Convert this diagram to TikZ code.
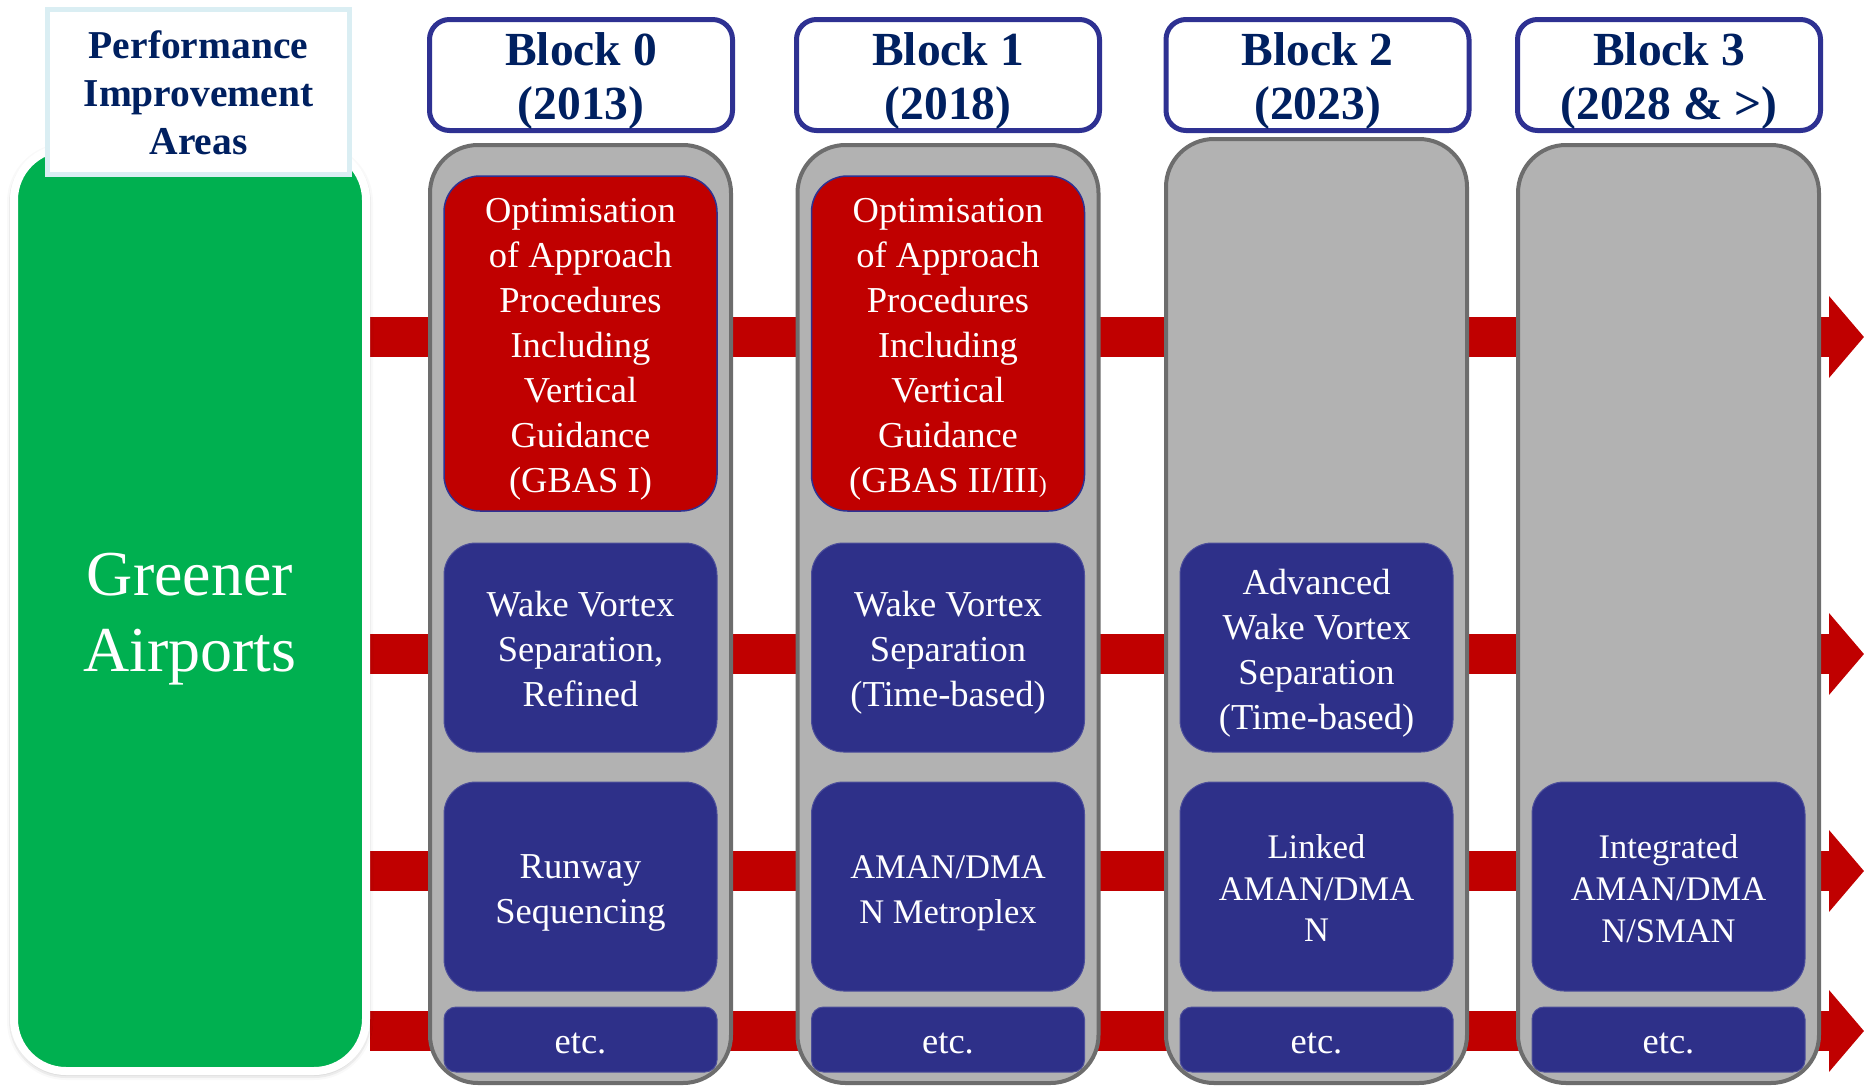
\documentclass[tikz,border=0pt]{standalone}
\usepackage{fontspec}
\setmainfont{Liberation Serif}
\usetikzlibrary{arrows.meta,backgrounds,shadows.blur}

\definecolor{leafgreen}{HTML}{00B050}
\definecolor{deepred}{HTML}{C00000}
\definecolor{boxblue}{HTML}{2E3089}
\definecolor{rimblue}{HTML}{2E3192}
\definecolor{titlenavy}{HTML}{002060}
\definecolor{colgrey}{HTML}{B2B2B2}
\definecolor{colrim}{HTML}{6D6D6D}
\definecolor{paleteal}{HTML}{DAEEF3}

\begin{document}
\begin{tikzpicture}[x=1pt,y=-1pt,
  every node/.style={inner sep=0pt, align=center},
  % tall grey column behind each block
  column/.style={draw=colrim, line width=4pt, fill=colgrey, rounded corners=48pt,
    minimum width=301pt},
  % block title above each column
  header/.style={draw=rimblue, line width=5pt, fill=white, rounded corners=20pt,
    minimum width=303pt, minimum height=111pt, text=titlenavy,
    font={\bfseries\fontsize{47.5}{54}\selectfont\def\ls{\rule[-9pt]{0pt}{54pt}}}},
  % capability boxes inside the columns
  item/.style={fill=boxblue, draw=boxblue!85!white, line width=1pt, rounded corners=32pt,
    minimum width=273pt, minimum height=209pt, text=white,
    font={\fontsize{36.5}{45}\selectfont\def\ls{\rule[-8.5pt]{0pt}{45pt}}}},
  tight/.style={font={\fontsize{34.5}{41.5}\selectfont\def\ls{\rule[-7pt]{0pt}{41.5pt}}}},
  narrow/.style={font={\fontsize{34.5}{45}\selectfont\def\ls{\rule[-8.5pt]{0pt}{45pt}}}},
  redbox/.style={item, fill=deepred, draw=rimblue, line width=1.5pt, rounded corners=36pt,
    minimum height=335pt},
  etcbox/.style={item, rounded corners=12pt, minimum height=65pt},
  area/.style={fill=leafgreen, draw=white, line width=8pt, rounded corners=52pt,
    minimum width=352pt, minimum height=923pt, text=white,
    font={\fontsize{64}{76}\selectfont\def\ls{\rule[-14pt]{0pt}{76pt}}},
    blur shadow={shadow xshift=0pt, shadow yshift=-2pt, shadow blur radius=7pt,
      shadow opacity=40}},
  areatitle/.style={fill=white, draw=paleteal, line width=5pt,
    minimum width=302pt, minimum height=165pt, text=titlenavy,
    font={\bfseries\fontsize{39.5}{48}\selectfont\def\ls{\rule[-10pt]{0pt}{48pt}}}},
  flow/.style={draw=deepred, line width=40pt, line cap=butt,
    -{Triangle[length=35pt,width=80pt]}}
]
\useasboundingbox (0,0) rectangle (1864,1087);

% performance area
\node[area] (airports) at (190,609.5) {\ls Greener\\\ls Airports};
\node[areatitle] (areas) at (198.5,92) {\ls Performance\\\ls Improvement\\\ls Areas};

% columns
\node[column, minimum height=938pt] (c0) at (580.5,614) {};
\node[column, minimum height=938pt] (c1) at (948,614) {};
\node[column, minimum height=944pt] (c2) at (1316.5,611) {};
\node[column, minimum height=938pt] (c3) at (1668.5,614) {};

% block titles
\node[header] (h0) at (581,75) {\ls Block 0\\\ls (2013)};
\node[header] (h1) at (948,75) {\ls Block 1\\\ls (2018)};
\node[header] (h2) at (1317.5,75) {\ls Block 2\\\ls (2023)};
\node[header] (h3) at (1669,75) {\ls Block 3\\\ls (2028 \& >)};

% Block 0
\node[redbox] (b0r1) at (580.5,343.5) {\ls Optimisation\\\ls of Approach\\\ls Procedures\\\ls Including\\\ls Vertical\\\ls Guidance\\\ls (GBAS I)};
\node[item] (b0r2) at (580.5,647.5) {\ls Wake Vortex\\\ls Separation,\\\ls Refined};
\node[item] (b0r3) at (580.5,886.5) {\ls Runway\\\ls Sequencing};
\node[etcbox] (b0r4) at (580.5,1039.5) {\ls etc.};

% Block 1
\node[redbox] (b1r1) at (948,343.5) {\ls Optimisation\\\ls of Approach\\\ls Procedures\\\ls Including\\\ls Vertical\\\ls Guidance\\\ls (GBAS II/III{\fontsize{24}{24}\selectfont)}};
\node[item] (b1r2) at (948,647.5) {\ls Wake Vortex\\\ls Separation\\\ls (Time-based)};
\node[item, narrow] (b1r3) at (948,886.5) {\ls AMAN/DMA\\\ls N Metroplex};
\node[etcbox] (b1r4) at (948,1039.5) {\ls etc.};

% Block 2
\node[item] (b2r2) at (1316.5,647.5) {\ls Advanced\\\ls Wake Vortex\\\ls Separation\\\ls (Time-based)};
\node[item, tight] (b2r3) at (1316.5,886.5) {\ls Linked\\\ls AMAN/DMA\\\ls N};
\node[etcbox] (b2r4) at (1316.5,1039.5) {\ls etc.};

% Block 3
\node[item, tight] (b3r3) at (1668.5,886.5) {\ls Integrated\\\ls AMAN/DMA\\\ls N/SMAN};
\node[etcbox] (b3r4) at (1668.5,1039.5) {\ls etc.};

% red flow arrows running behind everything
\coordinate (tip1) at (1864,337);
\coordinate (tip2) at (1864,654);
\coordinate (tip3) at (1864,871);
\coordinate (tip4) at (1864,1031);
\begin{scope}[on background layer]
  \foreach \r in {1,...,4}
    \draw[flow] (airports.east |- tip\r) -- (tip\r);
\end{scope}
\end{tikzpicture}
\end{document}
